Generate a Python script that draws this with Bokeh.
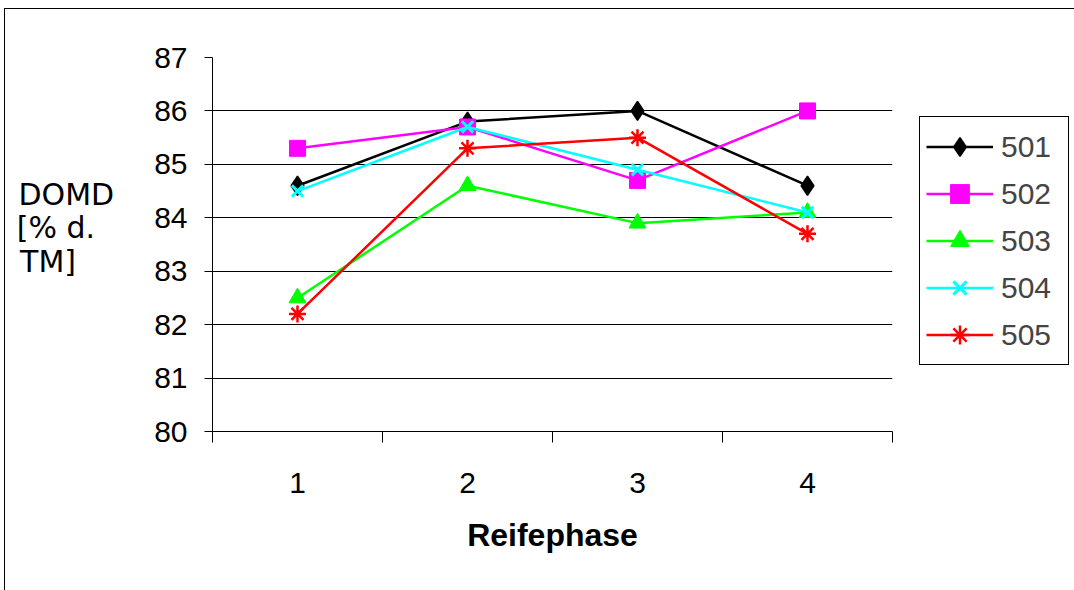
from bokeh.plotting import figure
from bokeh.models import Range1d, FixedTicker, Legend, LegendItem
from bokeh.embed import file_html
from bokeh.resources import INLINE

phases = [1, 2, 3, 4]
series_names = ["501", "502", "503", "504", "505"]
s501 = [84.6, 85.8, 86.0, 84.6]
s502 = [85.3, 85.7, 84.7, 86.0]
s503 = [82.5, 84.6, 83.9, 84.1]
s504 = [84.5, 85.7, 84.9, 84.1]
s505 = [82.2, 85.3, 85.5, 83.7]
y_ticks = [80, 81, 82, 83, 84, 85, 86, 87]
x_boundaries = [0.5, 1.5, 2.5, 3.5, 4.5]

colors = ["#000000", "#FF00FF", "#00FF00", "#00FFFF", "#FF0000"]
markers = ["diamond", "square", "triangle", "x", "asterisk"]
sizes = [19, 16, 17, 16, 17]
mwidths = [1.5, 1, 1, 3, 2.5]
values = [s501, s502, s503, s504, s505]

FONT = "Liberation Sans"
NB = "\u00a0"

p = figure(frame_width=680, frame_height=374, output_backend="svg", toolbar_location=None,
           x_range=Range1d(0.5, 4.5), y_range=Range1d(80, 87),
           min_border_left=207, min_border_right=0, min_border_top=48, min_border_bottom=160)
p.margin = (8, 0, 0, 4)
p.styles = {"border-left": "1px solid black", "border-top": "1px solid black", "box-sizing": "content-box"}
p.outline_line_color = None
p.background_fill_color = "white"
p.border_fill_color = "white"

p.xgrid.visible = False
p.ygrid.grid_line_color = "black"
p.ygrid.grid_line_width = 1
p.ygrid.ticker = FixedTicker(ticks=y_ticks)

p.yaxis.ticker = FixedTicker(ticks=y_ticks)
p.yaxis.axis_line_color = "black"
p.yaxis.major_tick_line_color = "black"
p.yaxis.major_tick_out = 8
p.yaxis.major_tick_in = 0
p.yaxis.minor_tick_line_color = None
p.yaxis.major_label_text_font = FONT
p.yaxis.major_label_text_font_size = "30px"
p.yaxis.major_label_text_color = "black"
p.yaxis.major_label_standoff = 17
p.yaxis.axis_label = "DOMD\n[% d." + NB * 2 + "\nTM]" + NB * 4 + "\n" + NB
p.yaxis.axis_label_orientation = "horizontal"
p.yaxis.axis_label_text_font = "DejaVu Sans"
p.yaxis.axis_label_text_font_size = "30px"
p.yaxis.axis_label_text_font_style = "normal"
p.yaxis.axis_label_text_color = "black"
p.yaxis.axis_label_text_line_height = 0.95
p.yaxis.axis_label_standoff = 37

p.xaxis.ticker = FixedTicker(ticks=phases, minor_ticks=x_boundaries)
p.xaxis.axis_line_color = "black"
p.xaxis.major_tick_line_color = None
p.xaxis.major_tick_out = 0
p.xaxis.major_tick_in = 0
p.xaxis.minor_tick_line_color = "black"
p.xaxis.minor_tick_out = 11
p.xaxis.minor_tick_in = 0
p.xaxis.major_label_text_font = FONT
p.xaxis.major_label_text_font_size = "30px"
p.xaxis.major_label_text_color = "black"
p.xaxis.major_label_standoff = 30
p.xaxis.axis_label = "Reifephase"
p.xaxis.axis_label_text_font = FONT
p.xaxis.axis_label_text_font_style = "bold"
p.xaxis.axis_label_text_font_size = "32px"
p.xaxis.axis_label_text_color = "black"
p.xaxis.axis_label_standoff = 21

items = []
for name, vals, c, m, s, w in zip(series_names, values, colors, markers, sizes, mwidths):
    ln = p.line(phases, vals, line_color=c, line_width=2.5)
    sc = p.scatter(phases, vals, marker=m, size=s, fill_color=c, line_color=c, line_width=w)
    items.append(LegendItem(label=name, renderers=[ln, sc]))

legend = Legend(items=items, location=(27, 66), margin=0, padding=6, spacing=0,
                glyph_width=67, glyph_height=47, label_height=47, label_width=61,
                label_standoff=8, label_text_font=FONT, label_text_font_size="30px",
                border_line_color="black", border_line_width=1, border_line_alpha=1,
                background_fill_color="white", background_fill_alpha=1)
p.add_layout(legend, "right")

open("out.html", "w").write(file_html(p, INLINE))
